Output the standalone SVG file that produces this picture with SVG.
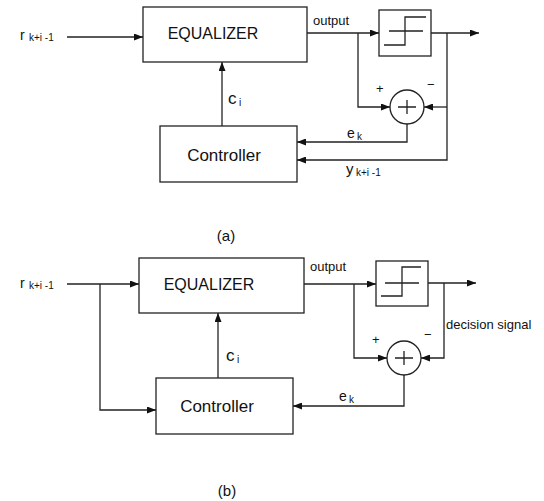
<svg xmlns="http://www.w3.org/2000/svg" width="544" height="501" viewBox="0 0 544 501">
<style>
.box{fill:#fff;stroke:#222;stroke-width:1.3}
.ln{fill:none;stroke:#222;stroke-width:1.3}
.arr{fill:none;stroke:#222;stroke-width:1.3;marker-end:url(#ah)}
text{font-family:"Liberation Sans",Arial,sans-serif;fill:#111}
.big{font-size:16px}
.ctl{font-size:17px}
.sm{font-size:13px}
.sub{font-size:10px}
.cap{font-size:14px}
.ci{font-size:17px}
.cap2{font-size:15px}
</style>
<defs>
<marker id="ah" markerWidth="9" markerHeight="7" refX="9" refY="3.5" orient="auto" markerUnits="userSpaceOnUse">
<path d="M0,0 L9,3.5 L0,7 z" fill="#111"/>
</marker>
</defs>
<rect width="544" height="501" fill="#fff"/>

<!-- ===== (a) ===== -->
<g id="a-input"><text x="20" y="40" class="cap">r</text><text x="29" y="41" class="sub">k+i -1</text></g>
<g id="a-equalizer"><rect class="box" x="143" y="7" width="164" height="55"/><text x="213" y="39" class="big" text-anchor="middle">EQUALIZER</text></g>
<g id="a-controller"><rect class="box" x="160" y="126" width="137" height="56"/><text x="224" y="161" class="ctl" text-anchor="middle">Controller</text></g>
<g id="a-decision"><rect class="box" x="379" y="10" width="52" height="46"/>
<path class="ln" d="M389,31 H423 M384,45 H405 V17 H426"/></g>
<g id="a-sum"><circle class="box" cx="407" cy="107" r="17"/><path class="ln" d="M398,107 H416 M407,100 V114"/></g>
<g id="a-connectors">
<path class="arr" d="M67,37 H143"/>
<path class="arr" d="M307,33 H379"/>
<path class="arr" d="M431,33 H479"/>
<path class="arr" d="M358,33 V107 H390"/>
<path class="arr" d="M447,107 H424"/>
<path class="arr" d="M447,33 V160 H297"/>
<path class="arr" d="M407,124 V142 H297"/>
<path class="arr" d="M222,126 V62"/>
</g>
<g id="a-labels">
<text x="313" y="25" class="sm">output</text>
<text x="376" y="93" class="sm">+</text>
<text x="427" y="89" class="sm">−</text>
<text x="228" y="104" class="ci">c</text><text x="239" y="106" class="sub">i</text>
<text x="347" y="138" class="cap">e</text><text x="357" y="140" class="sub">k</text>
<text x="346" y="174" class="cap2">y</text><text x="356" y="176" class="sub">k+i -1</text>
<text x="226" y="241" class="cap2" text-anchor="middle">(a)</text>
</g>

<!-- ===== (b) ===== -->
<g id="b-input"><text x="20" y="288" class="cap">r</text><text x="29" y="289" class="sub">k+i -1</text></g>
<g id="b-equalizer"><rect class="box" x="139" y="258" width="165" height="55"/><text x="209" y="290" class="big" text-anchor="middle">EQUALIZER</text></g>
<g id="b-controller"><rect class="box" x="156" y="378" width="137" height="56"/><text x="217" y="412" class="ctl" text-anchor="middle">Controller</text></g>
<g id="b-decision"><rect class="box" x="376" y="261" width="52" height="45"/>
<path class="ln" d="M385,283 H419 M381,296 H402 V267 H421"/></g>
<g id="b-sum"><circle class="box" cx="404" cy="358" r="17"/><path class="ln" d="M395,358 H413 M404,351 V365"/></g>
<g id="b-connectors">
<path class="arr" d="M67,284 H139"/>
<path class="arr" d="M100,284 V410 H156"/>
<path class="arr" d="M304,284 H376"/>
<path class="arr" d="M428,283 H476"/>
<path class="arr" d="M354,284 V358 H387"/>
<path class="arr" d="M444,283 V358 H421"/>
<path class="arr" d="M404,375 V406 H293"/>
<path class="arr" d="M218,378 V313"/>
</g>
<g id="b-labels">
<text x="310" y="271" class="sm">output</text>
<text x="372" y="344" class="sm">+</text>
<text x="424" y="339" class="sm">−</text>
<text x="446" y="329" class="sm">decision signal</text>
<text x="226" y="361" class="ci">c</text><text x="237" y="363" class="sub">i</text>
<text x="339" y="401" class="cap">e</text><text x="349" y="403" class="sub">k</text>
<text x="227" y="496" class="cap2" text-anchor="middle">(b)</text>
</g>
</svg>
